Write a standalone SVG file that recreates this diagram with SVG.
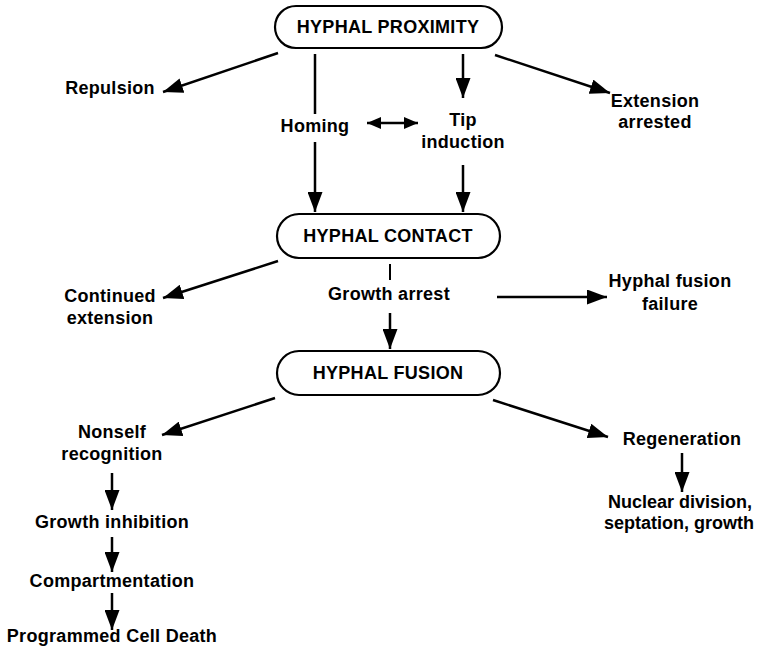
<svg xmlns="http://www.w3.org/2000/svg" width="758" height="654" viewBox="0 0 758 654">
<style>
text{font-family:"Liberation Sans",Arial,sans-serif;font-weight:bold;font-size:18px;letter-spacing:0.3px;fill:#000;text-anchor:middle}
.box{fill:#fff;stroke:#000;stroke-width:2.2}
.c{stroke:#000;stroke-width:2.5;fill:none}
.t{letter-spacing:0px}
</style>
<defs>
<marker id="ah" viewBox="0 0 20 15" refX="20" refY="7.5" markerWidth="20" markerHeight="15" markerUnits="userSpaceOnUse" orient="auto-start-reverse">
<path d="M0,0 L20,7.5 L0,15 Z" fill="#000"/>
</marker>
<marker id="ahs" viewBox="0 0 14 12" refX="14" refY="6" markerWidth="14" markerHeight="12" markerUnits="userSpaceOnUse" orient="auto-start-reverse">
<path d="M0,0 L14,6 L0,12 Z" fill="#000"/>
</marker>
</defs>
<g id="connectors">
<line class="c" x1="278" y1="53" x2="163" y2="92" marker-end="url(#ah)"/>
<line class="c" x1="315" y1="54" x2="315" y2="114"/>
<line class="c" x1="315" y1="142" x2="315" y2="212" marker-end="url(#ah)"/>
<line class="c" x1="367" y1="123" x2="418" y2="123" marker-start="url(#ahs)" marker-end="url(#ahs)"/>
<line class="c" x1="463" y1="54" x2="463" y2="98" marker-end="url(#ah)"/>
<line class="c" x1="463" y1="165" x2="463" y2="212" marker-end="url(#ah)"/>
<line class="c" x1="495" y1="55" x2="610" y2="93" marker-end="url(#ah)"/>
<line class="c" x1="278" y1="261" x2="163" y2="298" marker-end="url(#ah)"/>
<line class="c" x1="390" y1="264" x2="390" y2="280" style="stroke-width:2"/>
<line class="c" x1="390" y1="313" x2="390" y2="349" marker-end="url(#ah)"/>
<line class="c" x1="497" y1="297" x2="607" y2="297" marker-end="url(#ah)"/>
<line class="c" x1="275" y1="398" x2="162" y2="435" marker-end="url(#ah)"/>
<line class="c" x1="112" y1="473" x2="112" y2="510" marker-end="url(#ah)"/>
<line class="c" x1="112" y1="537" x2="112" y2="572" marker-end="url(#ah)"/>
<line class="c" x1="112" y1="593" x2="112" y2="630" marker-end="url(#ah)"/>
<line class="c" x1="493" y1="400" x2="608" y2="437" marker-end="url(#ah)"/>
<line class="c" x1="682" y1="453" x2="682" y2="492" marker-end="url(#ah)"/>
</g>
<g id="n-proximity">
<rect class="box" x="275" y="6" width="227" height="42" rx="21"/>
<text x="388" y="33">HYPHAL PROXIMITY</text>
</g>
<g id="n-contact">
<rect class="box" x="277" y="214" width="223" height="44" rx="22"/>
<text x="388" y="242">HYPHAL CONTACT</text>
</g>
<g id="n-fusion">
<rect class="box" x="277" y="351" width="223" height="44" rx="22"/>
<text x="388" y="379">HYPHAL FUSION</text>
</g>
<g id="n-repulsion"><text x="110" y="94">Repulsion</text></g>
<g id="n-homing"><text x="315" y="132">Homing</text></g>
<g id="n-tip"><text x="463" y="126">Tip</text><text x="463" y="148">induction</text></g>
<g id="n-extension"><text x="655" y="107">Extension</text><text x="655" y="128">arrested</text></g>
<g id="n-continued"><text x="110" y="302">Continued</text><text x="110" y="324">extension</text></g>
<g id="n-growth-arrest"><text x="389" y="300">Growth arrest</text></g>
<g id="n-failure"><text x="670" y="287">Hyphal fusion</text><text x="670" y="310">failure</text></g>
<g id="n-nonself"><text x="112" y="438">Nonself</text><text x="112" y="460">recognition</text></g>
<g id="n-inhibition"><text x="112" y="528">Growth inhibition</text></g>
<g id="n-compartment"><text x="112" y="587">Compartmentation</text></g>
<g id="n-pcd"><text x="112" y="642">Programmed Cell Death</text></g>
<g id="n-regeneration"><text x="682" y="445">Regeneration</text></g>
<g id="n-nuclear"><text class="t" x="680" y="508">Nuclear division,</text><text class="t" x="679" y="529">septation, growth</text></g>
</svg>
